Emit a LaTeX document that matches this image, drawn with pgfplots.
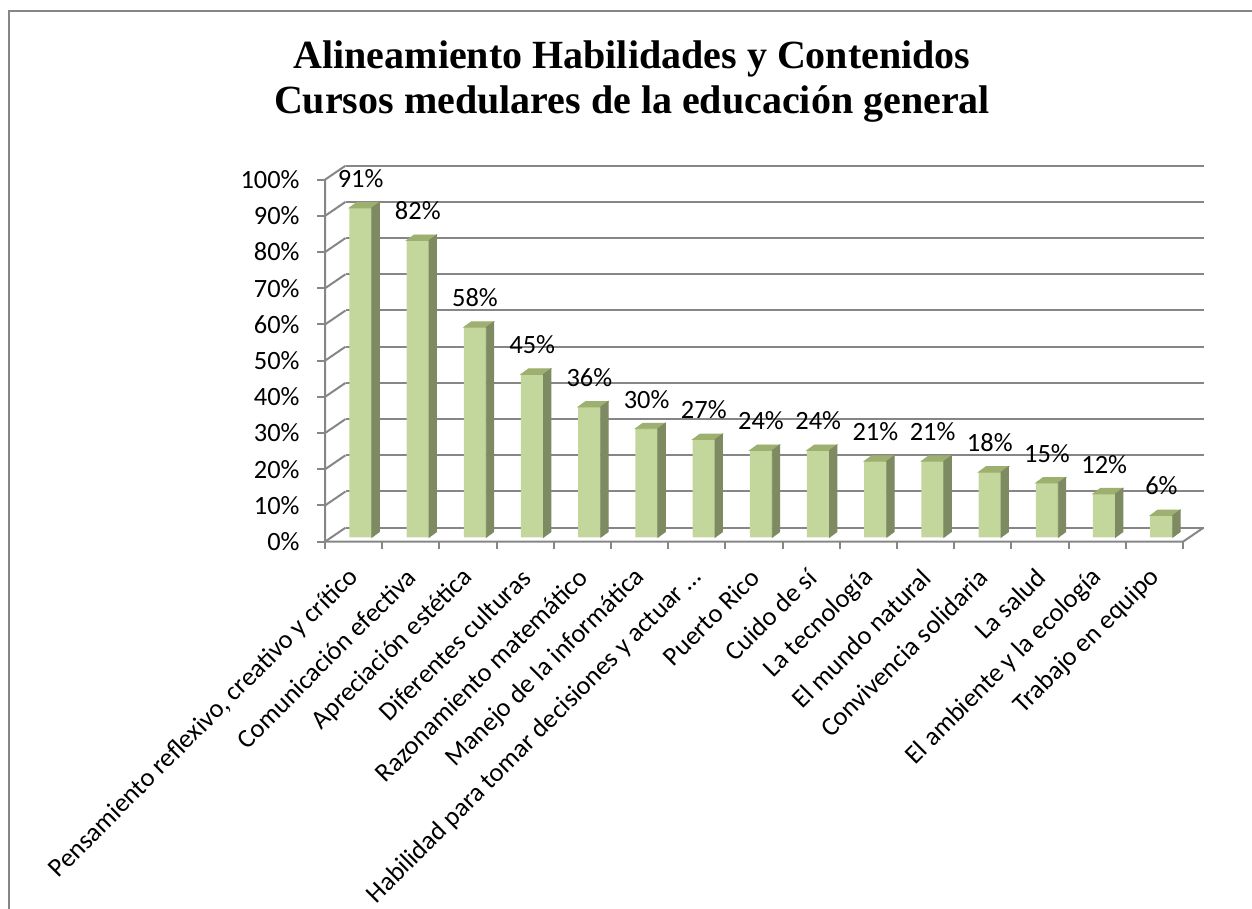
\documentclass[border=0pt]{standalone}
\usepackage{fontspec}
\setmainfont{Carlito}
\newfontfamily\titlefont{Liberation Serif}
\usepackage{pgfplots}
\pgfplotsset{compat=1.18}
\definecolor{gridc}{RGB}{134,134,134}
\definecolor{frontc}{RGB}{195,214,155}
\definecolor{sidec}{RGB}{126,139,98}
\definecolor{topc}{RGB}{158,176,112}
\newcommand\lblfont{\fontsize{13.2}{15}\selectfont}

\begin{document}
\begin{tikzpicture}
\useasboundingbox (0,0) rectangle (626pt,454.5pt);
\draw[gridc, line width=1pt] (4.5pt,0) -- (4.5pt,449pt) -- (626pt,449pt);
\node[anchor=base, inner sep=0pt, font=\titlefont\bfseries\fontsize{20}{24}\selectfont] at (316pt,420.35pt) {Alineamiento Habilidades y Contenidos};
\node[anchor=base, inner sep=0pt, font=\titlefont\bfseries\fontsize{20}{24}\selectfont] at (316pt,397.85pt) {Cursos medulares de la educación general};

\begin{axis}[
  scale only axis, width=429pt, height=181pt,
  at={(166pt,185.85pt)}, anchor=south west,
  xmin=0, xmax=15, ymin=0, ymax=100,
  clip=false,
  axis line style={draw=none},
  major tick length=0pt,
  tick style={draw=none},
  tick label style={font=\lblfont, inner sep=0pt},
  ytick={0,10,...,100},
  yticklabel={\pgfmathprintnumber[assume math mode=true]{\tick}\%},
  yticklabel style={anchor=east, xshift=-16pt, yshift=-2.2pt},
  xtick={0.5,1.5,...,14.5},
  xticklabels={{Pensamiento reflexivo, creativo y crítico},
    {Comunicación efectiva}, {Apreciación estética}, {Diferentes culturas},
    {Razonamiento matemático}, {Manejo de la informática},
    {Habilidad para tomar decisiones y actuar …}, {Puerto Rico},
    {Cuido de sí}, {La tecnología}, {El mundo natural},
    {Convivencia solidaria}, {La salud}, {El ambiente y la ecología},
    {Trabajo en equipo}},
  xticklabel style={xshift=-3pt, yshift=-17.9pt, rotate=45, anchor=east},
]
% back wall, left wall and floor
\pgfplotsinvokeforeach{0,10,...,100}{
  \draw[gridc, line width=1pt] ([shift={(6.75pt,4.8pt)}]axis cs:0,#1) -- ([shift={(6.75pt,4.8pt)}]axis cs:15,#1);
  \draw[gridc, line width=1pt] ([shift={(-3.5pt,-2.2pt)}]axis cs:0,#1) -- ([shift={(6.75pt,4.8pt)}]axis cs:0,#1);
  \draw[gridc, line width=1pt] ([shift={(-3.5pt,-2.2pt)}]axis cs:0,#1) -- ++(-4pt,0);
}
\draw[gridc, line width=1pt] ([shift={(-3.5pt,-2.2pt)}]axis cs:0,100) -- ([shift={(-3.5pt,-2.2pt)}]axis cs:0,0)
  -- ([shift={(-3.5pt,-2.2pt)}]axis cs:15,0) -- ([shift={(6.75pt,4.8pt)}]axis cs:15,0);
\pgfplotsinvokeforeach{0,...,15}{
  \draw[gridc, line width=1pt] ([shift={(-3.5pt,-2.2pt)}]axis cs:#1,0) -- ++(0,-3.5pt);
}

% front faces
\addplot[ybar, bar width=11.25pt, fill=frontc, draw=none,
  point meta=y,
  nodes near coords={\pgfmathprintnumber[assume math mode=true]{\pgfplotspointmeta}\%},
  every node near coord/.append style={font=\lblfont, inner sep=0pt, anchor=south, yshift=10pt}]
coordinates {
  (0.5,91) (1.5,82) (2.5,58) (3.5,45) (4.5,36) (5.5,30) (6.5,27) (7.5,24)
  (8.5,24) (9.5,21) (10.5,21) (11.5,18) (12.5,15) (13.5,12) (14.5,6)
};

% top and side faces
\addplot[scatter, only marks, mark=*, mark size=0pt,
  mark options={draw=none, fill=none},
  visualization depends on={rawy \as \rawy},
  scatter/@pre marker code/.code={
    \pgfmathsetmacro\hh{\rawy*1.81}
    \fill[topc] (-5.625pt,0pt) -- (5.625pt,0pt) -- (9.375pt,2.75pt) -- (-1.875pt,2.75pt) -- cycle;
    \fill[sidec] (5.625pt,0pt) -- ++(3.75pt,2.75pt) -- ++(0pt,-\hh pt) -- ++(-3.75pt,-2.75pt) -- cycle;
  },
  scatter/@post marker code/.code={}]
coordinates {
  (0.5,91) (1.5,82) (2.5,58) (3.5,45) (4.5,36) (5.5,30) (6.5,27) (7.5,24)
  (8.5,24) (9.5,21) (10.5,21) (11.5,18) (12.5,15) (13.5,12) (14.5,6)
};
\end{axis}
\end{tikzpicture}
\end{document}
